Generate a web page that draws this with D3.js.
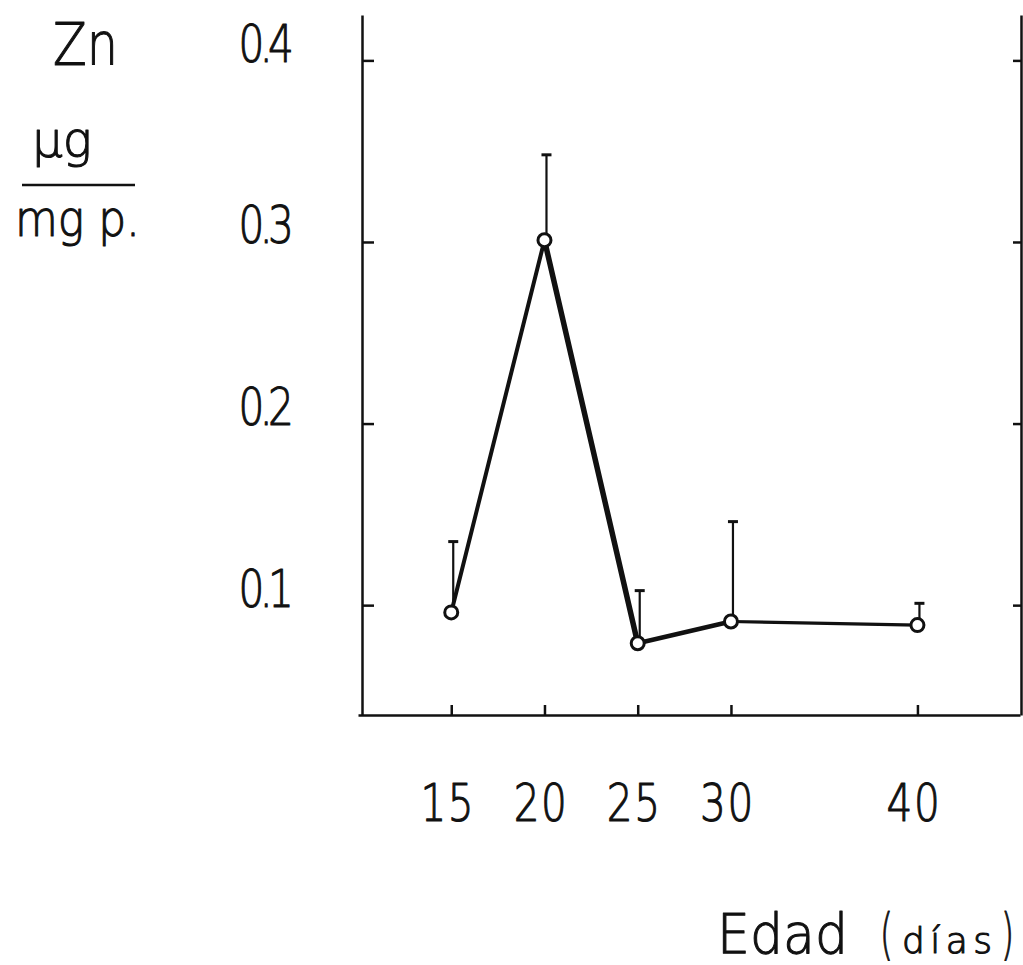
<!DOCTYPE html>
<html>
<head>
<meta charset="utf-8">
<script src="https://cdn.jsdelivr.net/npm/d3@7/dist/d3.min.js"></script>
<style>
  html, body { margin: 0; padding: 0; background: #fff; }
  svg { display: block; }
  text { font-family: "DejaVu Sans", sans-serif; font-weight: 200; fill: #111;
         stroke: #111; stroke-width: 1.1px; stroke-linejoin: round; }
</style>
</head>
<body>
<svg id="chart" width="1023" height="965"></svg>
<script>
// ---- data ----
const ages = [15, 20, 25, 30, 40];
const znMean = [0.096, 0.301, 0.079, 0.091, 0.089];
const znSD = [0.039, 0.047, 0.029, 0.055, 0.012];
const yTicks = [0.1, 0.2, 0.3, 0.4];
const yTickLabels = ["0.1", "0.2", "0.3", "0.4"];
const xTickLabels = ["15", "20", "25", "30", "40"];

// ---- layout ----
const svg = d3.select("#chart");
const ink = "#111";
const x = d3.scaleLinear().domain([10, 45.5]).range([358, 1020]);
const y = d3.scaleLinear().domain([0.0395, 0.425]).range([715, 15]);
const sx = 0.78;

// left axis
const gL = svg.append("g").attr("transform", "translate(362,0)")
  .call(d3.axisLeft(y).tickValues(yTicks).tickSize(-12).tickSizeOuter(0)
    .tickPadding(73).tickFormat((d, i) => yTickLabels[i]));
gL.selectAll("text")
  .attr("dy", null).attr("y", 1)
  .attr("x", -73 / sx)
  .attr("transform", `scale(${sx},1)`)
  .attr("font-size", 52).attr("font-family", "DejaVu Sans").attr("letter-spacing", -6);

// right axis
svg.append("g").attr("transform", "translate(1021,0)")
  .call(d3.axisRight(y).tickValues(yTicks).tickSize(-8).tickSizeOuter(0).tickFormat(""));

// bottom axis
const gB = svg.append("g").attr("transform", "translate(0,715)")
  .call(d3.axisBottom(x).tickValues(ages).tickSize(-10).tickSizeOuter(0)
    .tickFormat((d, i) => xTickLabels[i]));
gB.selectAll("text")
  .attr("dy", null).attr("y", 106)
  .attr("x", -4 / sx)
  .attr("transform", `scale(${sx},1)`)
  .attr("font-size", 52).attr("font-family", "DejaVu Sans").attr("letter-spacing", 2);

svg.selectAll(".domain, .tick line").attr("stroke", ink).attr("stroke-width", 2.5);
svg.selectAll(".tick text").attr("fill", ink).attr("stroke", ink);

// error bars (upper only)
const eb = svg.append("g").attr("stroke", ink);
ages.forEach((a, i) => {
  const cx = x(a) + 2;
  eb.append("line").attr("x1", cx).attr("x2", cx)
    .attr("y1", y(znMean[i])).attr("y2", y(znMean[i] + znSD[i]))
    .attr("stroke-width", 2.2);
  eb.append("line").attr("x1", cx - 5).attr("x2", cx + 5)
    .attr("y1", y(znMean[i] + znSD[i])).attr("y2", y(znMean[i] + znSD[i]))
    .attr("stroke-width", 3);
});

// connecting line segments
const segW = [4, 5.5, 4.5, 3.2];
for (let i = 0; i < ages.length - 1; i++) {
  svg.append("path")
    .attr("d", d3.line()([[x(ages[i]), y(znMean[i])], [x(ages[i + 1]), y(znMean[i + 1])]]))
    .attr("stroke", ink).attr("stroke-width", segW[i]).attr("fill", "none")
    .attr("stroke-linecap", "round");
}

// points
svg.append("g").selectAll("circle").data(ages).join("circle")
  .attr("cx", d => x(d)).attr("cy", (d, i) => y(znMean[i]))
  .attr("r", 6.5).attr("fill", "#fff").attr("stroke", ink).attr("stroke-width", 3);

// y title
svg.append("text").attr("x", 53).attr("y", 65).attr("font-size", 58)
  .attr("textLength", 65).attr("lengthAdjust", "spacingAndGlyphs").text("Zn");
svg.append("text").attr("x", 32).attr("y", 157).attr("font-size", 50)
  .attr("textLength", 60).attr("lengthAdjust", "spacingAndGlyphs").text("µg");
svg.append("line").attr("x1", 22).attr("x2", 135).attr("y1", 185).attr("y2", 185)
  .attr("stroke", ink).attr("stroke-width", 2.5);
svg.append("text").attr("x", 15).attr("y", 236).attr("font-size", 50)
  .attr("textLength", 125).attr("lengthAdjust", "spacingAndGlyphs").text("mg p.");

// x title
svg.append("text").attr("x", 717).attr("y", 953).attr("font-size", 56)
  .attr("textLength", 131).attr("lengthAdjust", "spacingAndGlyphs").text("Edad");
svg.append("text").attr("x", 880).attr("y", 953).attr("font-size", 56)
  .attr("textLength", 13).attr("lengthAdjust", "spacingAndGlyphs").text("(");
svg.append("text").attr("x", 902).attr("y", 953).attr("font-size", 36)
  .attr("textLength", 90).attr("lengthAdjust", "spacing").text("días");
svg.append("text").attr("x", 1001).attr("y", 953).attr("font-size", 56)
  .attr("textLength", 13).attr("lengthAdjust", "spacingAndGlyphs").text(")");
</script>
</body>
</html>
